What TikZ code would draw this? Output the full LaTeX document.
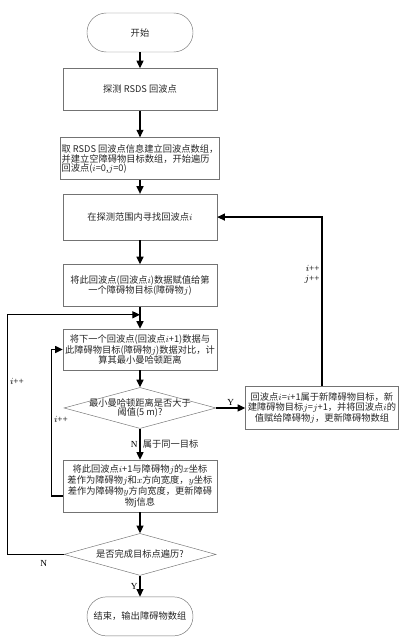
\documentclass[tikz,border=0pt]{standalone}
\usepackage{fontspec}
\setmainfont{Liberation Serif}
\newfontfamily\cjk{Noto Sans CJK SC}
\usetikzlibrary{shapes.geometric, arrows.meta, positioning}

\begin{document}
\begin{tikzpicture}[
        node distance=0.5cm,
        cjktext/.style={font=\cjk\fontsize{7.9}{7.5}\selectfont, text=black!85},
        terminal/.style={draw=black!55, rectangle, rounded corners=0.58cm, minimum width=3.18cm, minimum height=1.17cm, inner sep=1pt, cjktext},
        process/.style={draw=black!55, rectangle, minimum width=4.62cm, inner sep=1pt, align=center, cjktext},
        decision/.style={draw=black!55, diamond, minimum width=4.56cm, minimum height=1.23cm, inner sep=0pt},
        lbl/.style={font=\rmfamily\fontsize{7.9}{8.5}\selectfont, inner sep=1.5pt},
        arrow/.style={-{Triangle[length=6.5pt, width=6pt]}, line width=1pt}
    ]
        \useasboundingbox (0,0) rectangle (12.15,-19.14);

        \node (start) [terminal] at (4.2,-0.975) {开始};
        \node (detect) [process, minimum height=1.26cm, below=0.48cm of start] {探测 RSDS 回波点};
        \node (build) [process, minimum height=1.26cm, below=0.8cm of detect, align=left] {取 RSDS 回波点信息建立回波点数组，\\并建立空障碍物目标数组，开始遍历\\回波点($i$=0,$j$=0)};
        \node (search) [process, minimum height=1.38cm, below=0.42cm of build] {在探测范围内寻找回波点$i$};
        \node (assign) [process, minimum height=1.26cm, below=0.72cm of search] {将此回波点(回波点$i$)数据赋值给第\\一个障碍物目标(障碍物$j$)};
        \node (compare) [process, minimum height=1.23cm, below=0.66cm of assign] {将下一个回波点(回波点$i$+1)数据与\\此障碍物目标(障碍物$j$)数据对比，计\\算其最小曼哈顿距离};
        \node (dthresh) [decision, below=0.51cm of compare] {};
        \node (dthreshtext) [cjktext, align=center] at (dthresh) {最小曼哈顿距离是否大于\\阈值(5 m)?};
        \node (newobj) [process, minimum width=4.59cm, minimum height=1.29cm, right=0.87cm of dthresh] {回波点$i$=$i$+1属于新障碍物目标，新\\建障碍物目标$j$=$j$+1，并将回波点$i$的\\值赋给障碍物$j$，更新障碍物数组};
        \node (update) [process, minimum height=1.56cm, below=0.93cm of dthresh] {将此回波点$i$+1与障碍物$j$的$x$坐标\\差作为障碍物$j$和$x$方向宽度，$y$坐标\\差作为障碍物$y$方向宽度，更新障碍\\物j信息};
        \node (dfinish) [decision, minimum height=1.26cm, below=0.63cm of update] {};
        \node (dfinishtext) [cjktext] at (dfinish) {是否完成目标点遍历?};
        \node (stop) [terminal, below=0.63cm of dfinish] {结束，输出障碍物数组};

        % loop corners
        \coordinate (joinA) at ([yshift=-0.24cm]assign.south);
        \coordinate (outerC) at ([xshift=-1.68cm]dfinish.west);
        \coordinate (innerC) at ([xshift=-0.33cm, yshift=-0.3cm]update.west);

        \draw [arrow] (start) -- (detect);
        \draw [arrow] (detect) -- (build);
        \draw [arrow] (build) -- (search);
        \draw [arrow] (search) -- (assign);
        \draw [arrow] (assign) -- (compare);
        \draw [arrow] (compare) -- (dthresh);
        \draw [arrow] (dthresh) -- node[lbl, left] {N} node[cjktext, right, inner sep=2pt] {属于同一目标} (update);
        \draw [arrow] (dthresh) -- node[lbl, above] {Y} (newobj);
        \draw [arrow] (newobj) |- node[lbl, left, pos=0.33, align=right] {$i$++\\$j$++} (search);
        \draw [arrow] ([yshift=-0.3cm]update.west) -- (innerC) |- node[lbl, right, pos=0.26] {$i$++} (compare);
        \draw [arrow] (update) -- (dfinish);
        \draw [arrow] (dfinish) -- node[lbl, left] {Y} (stop);
        \draw [arrow] (dfinish) -- node[lbl, below=3pt, pos=0.36] {N} (outerC) |- node[lbl, right, pos=0.36] {$i$++} (joinA);
    \end{tikzpicture}
\end{document}
